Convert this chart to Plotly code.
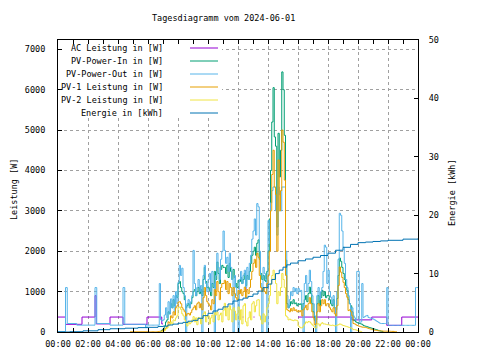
import plotly.graph_objects as go
import pandas as pd

DAY = "2024-06-01"
NEXT_DAY = "2024-06-02"
FONT = "DejaVu Sans Mono"

TITLE = "Tagesdiagramm vom 2024-06-01"
NAMES = ["AC Leistung in [W]", "PV-Power-In in [W]", "PV-Power-Out in [W]",
         "PV-1 Leistung in [W]", "PV-2 Leistung in [W]", "Energie in [kWh]"]
COLORS = ["#9400d3", "#009e73", "#56b4e9", "#e69f00", "#f0e442", "#0072b2"]

# 5-minute grid from 06:00 to 23:55 (one row per hour)
GRID_START = "06:00"
N = None

PV_OUT = [
    170, 170, 170, 170, 170, 170, 170, 170, 170, 1200, 300, 280,        # 06
    300, 420, 600, 350, 750, 450, 820, 600, 900, 500, 1000, 700,        # 07
    1230, 1650, 1400, 1580, 1100, 900, 0, 700, 800, 600, 750, 900,      # 08
    2020, 1200, 900, 1100, 1300, 1000, 1150, 0, 1400, 1650, 1200, 1000, # 09
    1300, 1450, 1000, 1500, 1200, 0, 1400, 1950, 1600, 1300, 1800, 2000,# 10
    2500, 2020, 1700, 1850, 1500, 1950, 1600, 1300, 0, 1400, 1100, 900, # 11
    0, 1300, 1500, 1200, 1400, 1530, 1100, 1600, 1300, 1700, 1900, 2300,# 12
    2500, 2800, 2400, 3180, 3100, 2000, 1200, 0, 1600, 1450, 1300, 0,   # 13
    2760, 2200, 3200, 3500, 3590, 3590, 3000, 2400, 3590, 3400, 3000, 3590,  # 14
    3590, 3590, 2000, 900, 600, 800, 1000, 900, 1100, 1000, 1080, 950,  # 15
    1080, 1000, 1030, 700, 0, 1200, 1400, 1000, 1200, 1530, 1250, 900,  # 16
    700, 400, 0, 900, 1100, 800, 1000, 1100, 1500, 2150, 2100, 1200,    # 17
    1530, 1000, 860, 700, 900, 600, 0, 1000, 1800, 2940, 2890, 2500,    # 18
    2100, 1700, 1300, 1100, 900, 700, 0, 600, 400, 350, 300, 1500,      # 19
    1500, 240, 250, 1200, 360, 380, 400, 410, 360, 350, 340, 330,       # 20
    320, 300, 280, 260, 240, 220, 210, 210, 210, 210, 210, 1100,        # 21
    165, 165, 165, 165, 165, 165, 165, 165, 165, 165, 165, 165,         # 22
    165, 165, 165, 165, 165, 165, 165, 165, 165, 165, 1100, 1100,       # 23
]
PV_OUT_NIGHT_T = ["00:00", "00:30", "00:37", "01:15", "02:28", "02:35", "03:28",
                  "04:20", "04:27", "05:50", "05:56"]
PV_OUT_NIGHT_V = [10, 1100, 210, 170, 1100, 210, 170, 1100, 190, 115, 190]
PV_OUT_END_T = ["24:00"]
PV_OUT_END_V = [1100]

PV_IN = [
    N, N, N, N, N, N, N, N, N, N, 20, 50,                               # 06
    80, 150, 250, 300, 500, 450, 700, 600, 800, 650, 900, 850,          # 07
    1200, 1250, 1100, 1000, 950, 800, 600, 650, 700, 600, 700, 850,     # 08
    1000, 1050, 900, 1000, 1100, 950, 1050, 900, 1300, 1600, 1250, 1100,# 09
    1100, 1030, 900, 1200, 1100, 1500, 1300, 1730, 1450, 1200, 1550, 1650,  # 10
    1600, 1600, 1450, 1650, 1350, 1700, 1500, 1300, 1550, 1350, 1200, 1100, # 11
    1280, 1250, 1350, 1200, 1300, 1450, 1150, 1400, 1300, 1500, 1700, 1900, # 12
    2000, 2100, 1900, 2200, 2280, 1800, 1450, 1300, 1400, 1280, 1250, 1500, # 13
    2000, 2800, 4000, 5200, 6050, 4830, 4600, 2600, 4920, 3840, 4500, 6440, # 14
    6000, 4870, 1780, 700, 600, 650, 750, 700, 800, 700, 720, 650,      # 15
    700, 680, 700, 550, 700, 800, 900, 750, 950, 1110, 950, 700,        # 16
    500, 290, 300, 700, 900, 650, 850, 1030, 900, 1000, 850, 900,       # 17
    900, 800, 700, 650, 800, 600, 550, 830, 1400, 1830, 1750, 1600,     # 18
    1450, 1300, 1150, 1030, 800, 700, 650, 500, 290, 280, 250, 230,     # 19
    220, 210, 200, 190, 160, 150, 140, 130, 120, 110, 100, 90,          # 20
    80, 70, 60, 50, 40, 30, 20, 10, 0, N, N, N,                         # 21
    N, N, N, N, N, N, N, N, N, N, N, N,                                 # 22
    N, N, N, N, N, N, N, N, N, N, N, N,                                 # 23
]

PV1 = [
    5, 5, 5, 5, 5, 5, 5, 5, 10, 15, 20, 30,                             # 06
    40, 60, 100, 150, 250, 220, 400, 350, 500, 420, 600, 650,           # 07
    740, 750, 700, 600, 550, 500, 400, 450, 460, 420, 480, 550,         # 08
    600, 650, 550, 700, 740, 600, 700, 550, 850, 1100, 900, 750,        # 09
    700, 650, 550, 800, 700, 1050, 900, 1250, 1000, 800, 1100, 1200,    # 10
    1200, 1280, 1050, 1250, 950, 1200, 1100, 900, 1100, 950, 850, 800,  # 11
    1030, 950, 1050, 900, 1000, 1110, 850, 1050, 950, 1100, 1300, 1500, # 12
    1700, 1800, 1600, 1950, 1850, 1400, 1100, 1000, 1100, 1000, 950, 1200,  # 13
    1400, 2000, 3000, 3900, 4500, 3590, 3400, 2000, 4260, 3000, 3500, 5000, # 14
    4700, 3760, 1400, 550, 530, 500, 580, 520, 600, 530, 550, 500,      # 15
    530, 500, 530, 400, 550, 600, 660, 550, 700, 850, 700, 500,         # 16
    350, 180, 200, 500, 700, 500, 650, 800, 700, 800, 650, 700,         # 17
    700, 600, 550, 500, 600, 450, 400, 650, 1150, 1610, 1480, 1350,     # 18
    1230, 1100, 950, 860, 530, 550, 500, 400, 210, 200, 180, 160,       # 19
    150, 140, 130, 120, 120, 115, 110, 100, 90, 80, 70, 60,             # 20
    50, 45, 40, 35, 30, 30, 25, 25, 20, 20, 20, 20,                     # 21
    20, 20, 15, 15, 15, 10, 10, 10, N, N, N, N,                         # 22
    N, N, N, N, N, N, N, N, N, N, N, N,                                 # 23
]
PV1_EARLY_T = ["04:48"]
PV1_EARLY_V = [5]

PV2 = [
    N, N, N, N, N, N, N, N, N, N, 0, 10,                                # 06
    20, 40, 80, 100, 150, 180, 250, 200, 300, 280, 350, 400,            # 07
    600, 620, 560, 450, 400, 300, 220, 150, 250, 200, 230, 300,         # 08
    380, 250, 350, 180, 360, 340, 200, 350, 450, 500, 250, 380,         # 09
    400, 200, 350, 420, 250, 480, 420, 500, 300, 420, 470, 250,         # 10
    540, 710, 400, 600, 300, 650, 550, 250, 600, 520, 300, 450,         # 11
    620, 300, 550, 200, 650, 700, 250, 150, 350, 500, 300, 700,         # 12
    750, 500, 650, 790, 800, 400, 300, 200, 450, 250, 400, 600,         # 13
    700, 900, 1200, 1400, 1530, 1300, 1200, 700, 1000, 900, 1100, 1450, # 14
    1300, 1100, 400, 370, 300, 320, 300, 290, 280, 300, 290, 280,       # 15
    150, 120, 100, 110, 150, 200, 250, 230, 260, 250, 220, 180,         # 16
    150, 110, 100, 200, 200, 150, 200, 230, 200, 200, 190, 180,         # 17
    180, 170, 160, 170, 165, 150, 160, 170, 180, 200, 190, 170,         # 18
    160, 150, 140, 130, 120, 110, 100, 80, 60, 60, 50, 40,              # 19
    30, 20, 10, 0, N, N, N, N, N, N, N, N,                              # 20
    N, N, N, N, N, N, N, N, N, N, N, N,                                 # 21
    N, N, N, N, N, N, N, N, N, N, N, N,                                 # 22
    N, N, N, N, N, N, N, N, N, N, N, N,                                 # 23
]

# AC power: only the parts that are visible (hidden under PV-Out in daytime)
AC_T = ["00:00", "00:30", "01:36", "02:28", "02:33", "03:28", "04:20", "05:56",
        "06:55", "07:00", "07:00",
        "12:18", "12:22", "12:22",
        "12:32", "12:32", "12:32",
        "13:02", "13:06", "13:06",
        "13:16", "13:17", "13:17",
        "16:00", "19:35", "20:55", "21:55", "22:55", "24:00"]
AC_V = [370, 190, 370, 900, 200, 370, 190, 370,
        200, 200, N,
        370, 370, N,
        1000, 1100, N,
        370, 370, N,
        3180, 3180, N,
        370, 300, 370, 165, 370, 370]

ENERGY_T = ["00:00", "00:48", "01:40", "02:40", "03:28", "04:28", "05:20", "06:00",
            "06:40", "07:00", "07:20", "07:40", "08:00", "08:20", "08:40", "09:00",
            "09:20", "09:40", "10:00", "10:20", "10:40", "11:00", "11:20", "11:40",
            "12:00", "12:20", "12:40", "13:00", "13:20", "13:40", "14:00", "14:15",
            "14:30", "14:45", "15:00", "15:15", "15:30", "16:00", "16:30", "17:00",
            "17:30", "18:00", "18:30", "19:00", "19:30", "20:00", "20:30", "21:00",
            "21:30", "22:00", "23:00", "24:00"]
ENERGY_V = [0, 0.05, 0.2, 0.4, 0.56, 0.65, 0.75, 0.8,
            0.95, 1.0, 1.2, 1.35, 1.5, 1.65, 1.85, 2.0,
            2.35, 2.8, 3.2, 3.6, 3.9, 4.3, 4.8, 5.3,
            5.5, 5.8, 6.1, 6.5, 7.0, 7.6, 8.2, 9.0,
            10.0, 10.6, 11.1, 11.5, 11.8, 12.2, 12.5, 12.8,
            13.1, 13.5, 14.0, 14.5, 15.0, 15.3, 15.4, 15.5,
            15.6, 15.7, 15.9, 16.0]

Y_TICKS = [0, 1000, 2000, 3000, 4000, 5000, 6000, 7000]
Y_MAX = 7230
Y2_TICKS = [0, 10, 20, 30, 40, 50]
Y2_MAX = 50


def ts(t):
    if t == "24:00":
        return f"{NEXT_DAY} 00:00"
    return f"{DAY} {t}"


def grid_from(start, n):
    return [d.strftime("%Y-%m-%d %H:%M") for d in
            pd.date_range(ts(start), periods=n, freq="5min")]


grid = grid_from(GRID_START, len(PV_OUT))

series = [
    ([ts(t) for t in AC_T], AC_V, "y"),
    (grid, PV_IN, "y"),
    ([ts(t) for t in PV_OUT_NIGHT_T] + grid + [ts(t) for t in PV_OUT_END_T],
     PV_OUT_NIGHT_V + PV_OUT + PV_OUT_END_V, "y"),
    ([ts(t) for t in PV1_EARLY_T] + grid, PV1_EARLY_V + PV1, "y"),
    (grid, PV2, "y"),
    ([ts(t) for t in ENERGY_T], ENERGY_V, "y2"),
]

fig = go.Figure()
for (x, y, ax), name, col in zip(series, NAMES, COLORS):
    fig.add_trace(go.Scatter(x=x, y=y, name=name, yaxis=ax, mode="lines",
                             line=dict(color=col, width=1, shape="hv"),
                             showlegend=False, connectgaps=False))

# Target plot area in window pixels; the page body adds an 8px offset
OFF = 8
L, R, T, B = 58, 418, 40, 332
W, H = R - L, B - T


def px(x):
    return (x - L) / W


def py(y):
    return (B - y) / H


grid_style = dict(showgrid=True, gridcolor="#a0a0a0", griddash="3px,3px", gridwidth=1)

fig.update_layout(
    width=480, height=360,
    margin=dict(l=L - OFF, r=480 - R + OFF, t=T - OFF, b=360 - B + OFF),
    paper_bgcolor="white", plot_bgcolor="white",
    showlegend=False,
    font=dict(family=FONT, size=8.5, color="black"),
    xaxis=dict(type="date", range=[ts("00:00"), ts("24:00")],
               tick0=ts("00:00"), dtick=2 * 3600 * 1000, tickformat="%H:%M",
               showline=True, linecolor="black", linewidth=1, mirror="allticks",
               ticks="inside", ticklen=4, tickcolor="black", tickwidth=1,
               minor=dict(dtick=3600 * 1000, ticks="inside", ticklen=4,
                          tickcolor="black", showgrid=False),
               ticklabelstandoff=4, zeroline=False, **grid_style),
    yaxis=dict(range=[0, Y_MAX], tickvals=Y_TICKS,
               showline=True, linecolor="black", linewidth=1, mirror=False,
               ticks="inside", ticklen=4, tickcolor="black",
               ticklabelstandoff=10, zeroline=False, **grid_style),
    yaxis2=dict(range=[0, Y2_MAX], tickvals=Y2_TICKS, overlaying="y", side="right",
                showline=True, linecolor="black", linewidth=1,
                ticks="inside", ticklen=4, tickcolor="black",
                ticklabelstandoff=8, showgrid=False, zeroline=False),
)

# opaque key box (hides the grid behind the key, like gnuplot)
box_x1 = pd.Timestamp(ts("00:00")) + pd.Timedelta(hours=(222 - L) / 15)
shapes = [dict(type="rect", xref="x", yref="y",
               x0=ts("00:00"), x1=box_x1.strftime("%Y-%m-%d %H:%M:%S"),
               y0=Y_MAX * py(118), y1=Y_MAX,
               fillcolor="white", line=dict(width=0), layer="between")]
annotations = []
LEG_Y = [48, 61, 74, 87, 100, 113]
for name, col, yy in zip(NAMES, COLORS, LEG_Y):
    annotations.append(dict(text=name, xref="paper", yref="paper",
                            x=px(165), y=py(yy), xanchor="right", yanchor="middle",
                            showarrow=False, font=dict(family=FONT, size=8.5)))
    shapes.append(dict(type="line", xref="paper", yref="paper",
                       x0=px(190), x1=px(218), y0=py(yy), y1=py(yy),
                       line=dict(color=col, width=1), layer="above"))

annotations.append(dict(text=TITLE, xref="paper", yref="paper",
                        x=px(223), y=py(18), xanchor="center", yanchor="middle",
                        showarrow=False, font=dict(family=FONT, size=8.5)))
annotations.append(dict(text="Leistung [W]", xref="paper", yref="paper",
                        x=px(14), y=py(190), textangle=-90, showarrow=False,
                        xanchor="center", yanchor="middle",
                        font=dict(family=FONT, size=8.5)))
annotations.append(dict(text="Energie [kWh]", xref="paper", yref="paper",
                        x=px(452), y=py(193), textangle=-90, showarrow=False,
                        xanchor="center", yanchor="middle",
                        font=dict(family=FONT, size=8.5)))

fig.update_layout(shapes=shapes, annotations=annotations)
fig.write_html("out.html")
